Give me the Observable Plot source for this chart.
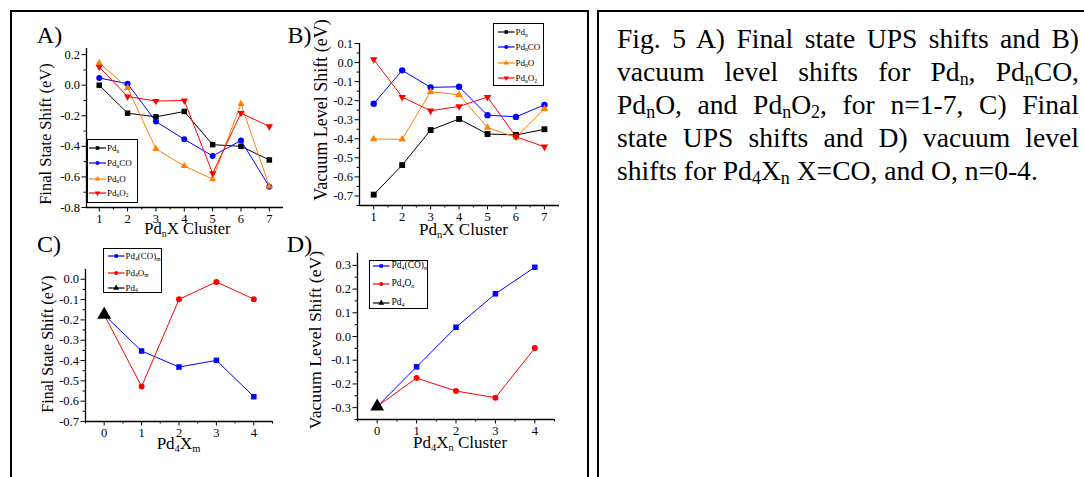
<!DOCTYPE html>
<html>
<head>
<meta charset="utf-8">
<script src="https://cdn.jsdelivr.net/npm/d3@7"></script>
<script src="https://cdn.jsdelivr.net/npm/@observablehq/plot@0.6"></script>
<style>
body{margin:0;background:#fff}
#fig{position:relative;width:1084px;height:477px;overflow:hidden;font-family:"Liberation Serif","Times New Roman",serif;color:#000;background:#fff}
#fig svg, #fig svg text{font-family:"Liberation Serif","Times New Roman",serif !important}
.box{position:absolute;border:2px solid #000;box-sizing:border-box}
.lbl{position:absolute;line-height:1;white-space:nowrap;transform:translate(-50%,-50%)}
.rot{transform:translate(-50%,-50%) rotate(-90deg)}
sub{font-size:0.62em;vertical-align:baseline;position:relative;top:0.32em;line-height:0}
.legend{position:absolute;border:1px solid #000;background:#fff;box-sizing:border-box}
.legend .t{position:absolute;line-height:1;white-space:nowrap;transform:translateY(-50%)}
.legend svg{position:absolute;overflow:visible}
.pl{position:absolute}
#cap{position:absolute;left:617px;top:22px;width:462px;font-size:27.6px;line-height:33px;text-align:justify}
#cap sub{font-size:0.65em;top:0.25em}
</style>
</head>
<body>
<div id="fig"></div>
<script>
// ---------- data ----------
const clusterN = [1, 2, 3, 4, 5, 6, 7];
// A) Final state shift (eV)
const fsPd    = [0.00, -0.183, -0.207, -0.172, -0.389, -0.400, -0.489];
const fsPdCO  = [0.047, 0.010, -0.238, -0.354, -0.463, -0.362, -0.664];
const fsPdO   = [0.145, -0.017, -0.417, -0.528, -0.614, -0.122, -0.662];
const fsPdO2  = [0.119, -0.074, -0.104, -0.100, -0.577, -0.183, -0.270];
// B) Vacuum level shift (eV)
const vlPd    = [-0.693, -0.538, -0.354, -0.296, -0.375, -0.380, -0.350];
const vlPdCO  = [-0.216, -0.041, -0.130, -0.127, -0.276, -0.285, -0.222];
const vlPdO   = [-0.401, -0.403, -0.153, -0.169, -0.341, -0.392, -0.243];
const vlPdO2  = [0.016, -0.181, -0.253, -0.230, -0.181, -0.389, -0.442];
// C, D) Pd4 X_m
const ligandM = [0, 1, 2, 3, 4];
const bareM   = [0];
const fsPd4CO = [-0.175, -0.353, -0.432, -0.399, -0.578];
const fsPd4O  = [-0.175, -0.528, -0.099, -0.013, -0.098];
const fsPd4   = [-0.175];
const vlPd4CO = [-0.295, -0.128, 0.039, 0.180, 0.292];
const vlPd4O  = [-0.295, -0.175, -0.230, -0.258, -0.049];
const vlPd4   = [-0.295];

// tick labels
const ticksN = [1, 2, 3, 4, 5, 6, 7];
const minorN = [1.5, 2.5, 3.5, 4.5, 5.5, 6.5];
const ticksM = [0, 1, 2, 3, 4];
const minorM = [-0.5, 0.5, 1.5, 2.5, 3.5, 4.5];
const ticksA = [0.2, 0.0, -0.2, -0.4, -0.6, -0.8];
const minorA = [0.1, -0.1, -0.3, -0.5, -0.7];
const ticksB = [0.1, 0.0, -0.1, -0.2, -0.3, -0.4, -0.5, -0.6, -0.7];
const minorB = [0.05, -0.05, -0.15, -0.25, -0.35, -0.45, -0.55, -0.65, -0.75];
const ticksC = [0.0, -0.1, -0.2, -0.3, -0.4, -0.5, -0.6, -0.7];
const minorC = [-0.05, -0.15, -0.25, -0.35, -0.45, -0.55, -0.65];
const ticksD = [0.3, 0.2, 0.1, 0.0, -0.1, -0.2, -0.3];
const minorD = [0.25, 0.15, 0.05, -0.05, -0.15, -0.25, -0.35];

// series styles
const BLACK = "#000000", BLUE = "#0000ff", ORANGE = "#ff8000", RED = "#ff0000";
const SERIF = '"Liberation Serif", "Times New Roman", serif';

const fig = document.getElementById("fig");

function add(html, cls, style) {
  const d = document.createElement("div");
  d.className = cls;
  d.innerHTML = html;
  Object.assign(d.style, style);
  fig.appendChild(d);
  return d;
}

// frames
add("", "box", {left: "10px", top: "10px", width: "579px", height: "520px"});
add("", "box", {left: "597px", top: "10px", width: "600px", height: "520px"});

const yFmt = d => (Math.abs(d) < 1e-9 ? 0 : d).toFixed(1);

function panel(opt) {
  const marks = [];
  const tf = {fontFamily: SERIF, fontSize: opt.fs || 12.5};
  marks.push(Plot.axisX({ticks: opt.xMinor, tickSize: 2.5, tickFormat: () => "", label: null, strokeWidth: 1}));
  marks.push(Plot.axisX({ticks: opt.xTicks, tickSize: 4.5, tickPadding: 2, tickFormat: d => String(d), label: null, strokeWidth: 1, ...tf}));
  marks.push(Plot.axisY({ticks: opt.yMinor, tickSize: 2.5, tickFormat: () => "", label: null, strokeWidth: 1}));
  marks.push(Plot.axisY({ticks: opt.yTicks, tickSize: 4.5, tickPadding: 2, tickFormat: yFmt, label: null, strokeWidth: 1, ...tf}));
  marks.push(Plot.ruleX([opt.xDomain[0]], {stroke: "#000", strokeWidth: 1.3}));
  marks.push(Plot.ruleY([opt.yDomain[0]], {stroke: "#000", strokeWidth: 1.3}));
  for (const s of opt.series) {
    const data = s.x.map((x, i) => ({x, y: s.y[i]}));
    if (s.line !== false) marks.push(Plot.line(data, {x: "x", y: "y", stroke: s.color, strokeWidth: 1}));
  }
  for (const s of opt.series) {
    const data = s.x.map((x, i) => ({x, y: s.y[i]}));
    marks.push(Plot.dot(data, {x: "x", y: "y", symbol: s.symbol, fill: s.color, stroke: "none", r: s.r, rotate: s.rotate || 0}));
  }
  const svg = Plot.plot({
    width: opt.width, height: opt.height,
    marginLeft: opt.mL, marginRight: opt.mR, marginTop: opt.mT, marginBottom: opt.mB,
    x: {domain: opt.xDomain},
    y: {domain: opt.yDomain},
    style: {background: "transparent", fontFamily: SERIF, fontSize: (opt.fs || 12.5) + "px", color: "#000", overflow: "visible"},
    marks
  });
  svg.classList.add("pl");
  svg.style.left = opt.left + "px";
  svg.style.top = opt.top + "px";
  svg.style.position = "absolute";
  svg.style.fontFamily = SERIF;
  fig.appendChild(svg);
}

function legend(box, entries) {
  const d = document.createElement("div");
  d.className = "legend";
  Object.assign(d.style, {left: box.left + "px", top: box.top + "px", width: box.width + "px", height: box.height + "px"});
  entries.forEach((e, i) => {
    const cy = box.rows[i];
    const ns = "http://www.w3.org/2000/svg";
    const svg = document.createElementNS(ns, "svg");
    const w = box.iconX1 - box.iconX0;
    svg.setAttribute("width", w);
    svg.setAttribute("height", 10);
    svg.style.left = box.iconX0 + "px";
    svg.style.top = (cy - 5) + "px";
    const ln = document.createElementNS(ns, "line");
    ln.setAttribute("x1", 0); ln.setAttribute("x2", w);
    ln.setAttribute("y1", 5); ln.setAttribute("y2", 5);
    ln.setAttribute("stroke", e.color); ln.setAttribute("stroke-width", 1.2);
    svg.appendChild(ln);
    const p = document.createElementNS(ns, "path");
    const type = {square: d3.symbolSquare, circle: d3.symbolCircle, triangle: d3.symbolTriangle}[e.symbol];
    p.setAttribute("d", d3.symbol(type, Math.PI * e.r * e.r)());
    p.setAttribute("fill", e.color);
    p.setAttribute("transform", `translate(${w / 2},5) rotate(${e.rotate || 0})`);
    svg.appendChild(p);
    d.appendChild(svg);
    const t = document.createElement("div");
    t.className = "t";
    t.innerHTML = e.label;
    t.style.left = box.textX + "px";
    t.style.top = cy + "px";
    t.style.fontSize = box.fontSize + "px";
    d.appendChild(t);
  });
  fig.appendChild(d);
}

// ---------- Panel A ----------
panel({
  left: 40, top: 40, width: 255, height: 195, mL: 46, mR: 12, mT: 8, mB: 28,
  xDomain: [0.55, 7.5], yDomain: [-0.8, 0.24],
  xTicks: ticksN, xMinor: minorN, yTicks: ticksA, yMinor: minorA,
  series: [
    {x: clusterN, y: fsPd, color: BLACK, symbol: "square", r: 3.1},
    {x: clusterN, y: fsPdCO, color: BLUE, symbol: "circle", r: 3},
    {x: clusterN, y: fsPdO, color: ORANGE, symbol: "triangle", r: 2.7},
    {x: clusterN, y: fsPdO2, color: RED, symbol: "triangle", r: 2.7, rotate: 180}
  ]
});
// ---------- Panel B ----------
panel({
  left: 320, top: 35, width: 250, height: 195, mL: 39, mR: 11, mT: 8, mB: 25,
  xDomain: [0.5, 7.53], yDomain: [-0.75, 0.1],
  xTicks: ticksN, xMinor: minorN, yTicks: ticksB, yMinor: minorB,
  series: [
    {x: clusterN, y: vlPd, color: BLACK, symbol: "square", r: 3.3},
    {x: clusterN, y: vlPdCO, color: BLUE, symbol: "circle", r: 3.2},
    {x: clusterN, y: vlPdO, color: ORANGE, symbol: "triangle", r: 2.8},
    {x: clusterN, y: vlPdO2, color: RED, symbol: "triangle", r: 2.8, rotate: 180}
  ]
});
// ---------- Panel C ----------
panel({
  left: 40, top: 260, width: 245, height: 180, mL: 45, mR: 13, mT: 9, mB: 19,
  xDomain: [-0.5, 4.5], yDomain: [-0.7, 0.048],
  xTicks: ticksM, xMinor: minorM, yTicks: ticksC, yMinor: minorC,
  series: [
    {x: ligandM, y: fsPd4CO, color: BLUE, symbol: "square", r: 3.1},
    {x: ligandM, y: fsPd4O, color: RED, symbol: "circle", r: 3},
    {x: bareM, y: fsPd4, color: BLACK, symbol: "triangle", r: 5.2, line: false}
  ]
});
// ---------- Panel D ----------
panel({
  left: 310, top: 245, width: 255, height: 195, mL: 47, mR: 11, mT: 8, mB: 21,
  xDomain: [-0.5, 4.5], yDomain: [-0.35, 0.35],
  xTicks: ticksM, xMinor: minorM, yTicks: ticksD, yMinor: minorD,
  series: [
    {x: ligandM, y: vlPd4CO, color: BLUE, symbol: "square", r: 3.1},
    {x: ligandM, y: vlPd4O, color: RED, symbol: "circle", r: 3},
    {x: bareM, y: vlPd4, color: BLACK, symbol: "triangle", r: 5.1, line: false}
  ]
});

// ---------- legends ----------
legend({left: 87, top: 139, width: 51, height: 64, rows: [8, 23, 38.5, 52.5], iconX0: 1, iconX1: 18, textX: 19, fontSize: 9}, [
  {label: "Pd<sub>n</sub>", color: BLACK, symbol: "square", r: 2},
  {label: "Pd<sub>n</sub>CO", color: BLUE, symbol: "circle", r: 2},
  {label: "Pd<sub>n</sub>O", color: ORANGE, symbol: "triangle", r: 2},
  {label: "Pd<sub>n</sub>O<sub>2</sub>", color: RED, symbol: "triangle", r: 2, rotate: 180}
]);
legend({left: 493, top: 23, width: 51, height: 63, rows: [8, 22.5, 38.5, 54], iconX0: 3.5, iconX1: 20, textX: 21.5, fontSize: 9}, [
  {label: "Pd<sub>n</sub>", color: BLACK, symbol: "square", r: 2},
  {label: "Pd<sub>n</sub>CO", color: BLUE, symbol: "circle", r: 2},
  {label: "Pd<sub>n</sub>O", color: ORANGE, symbol: "triangle", r: 2},
  {label: "Pd<sub>n</sub>O<sub>2</sub>", color: RED, symbol: "triangle", r: 2, rotate: 180}
]);
legend({left: 103, top: 248, width: 59, height: 45, rows: [7, 23.5, 38.5], iconX0: 3.5, iconX1: 20, textX: 21.5, fontSize: 9}, [
  {label: "Pd<sub>4</sub>(CO)<sub>m</sub>", color: BLUE, symbol: "square", r: 2},
  {label: "Pd<sub>4</sub>O<sub>m</sub>", color: RED, symbol: "circle", r: 2},
  {label: "Pd<sub>4</sub>", color: BLACK, symbol: "triangle", r: 2.2}
]);
legend({left: 369, top: 260, width: 59, height: 49, rows: [5, 23.3, 41.7], iconX0: 2.5, iconX1: 19, textX: 21.5, fontSize: 9.5}, [
  {label: "Pd<sub>4</sub>(CO)<sub>n</sub>", color: BLUE, symbol: "square", r: 2},
  {label: "Pd<sub>4</sub>O<sub>n</sub>", color: RED, symbol: "circle", r: 2},
  {label: "Pd<sub>4</sub>", color: BLACK, symbol: "triangle", r: 2.2}
]);

// ---------- text labels ----------
const px = v => v + "px";
const labels = [
  {t: "A)", x: 49.5, y: 35, s: 24},
  {t: "B)", x: 299.5, y: 35, s: 24},
  {t: "C)", x: 49, y: 243.5, s: 24},
  {t: "D)", x: 299.5, y: 243.5, s: 24},
  {t: "Final State Shift (eV)", x: 46, y: 133.5, s: 16.5, r: true},
  {t: "Vacuum Level Shift (eV)", x: 320.5, y: 109.5, s: 18, r: true},
  {t: "Final State Shift (eV)", x: 47.5, y: 344, s: 16, r: true},
  {t: "Vacuum Level Shift (eV)", x: 315.5, y: 340, s: 17.7, r: true},
  {t: "Pd<sub>n</sub>X Cluster", x: 187.5, y: 229, s: 16.5},
  {t: "Pd<sub>n</sub>X Cluster", x: 463.5, y: 229, s: 17},
  {t: "Pd<sub>4</sub>X<sub>m</sub>", x: 178.5, y: 443, s: 17},
  {t: "Pd<sub>4</sub>X<sub>n</sub> Cluster", x: 460, y: 442, s: 17}
];
for (const l of labels) {
  add(l.t, "lbl" + (l.r ? " rot" : ""), {left: px(l.x), top: px(l.y), fontSize: px(l.s)});
}

// ---------- caption ----------
const cap = document.createElement("div");
cap.id = "cap";
cap.innerHTML = "Fig. 5 A) Final state UPS shifts and B) vacuum level shifts for Pd<sub>n</sub>, Pd<sub>n</sub>CO, Pd<sub>n</sub>O, and Pd<sub>n</sub>O<sub>2</sub>, for n=1-7, C) Final state UPS shifts and D) vacuum level shifts for Pd<sub>4</sub>X<sub>n</sub> X=CO, and O, n=0-4.";
fig.appendChild(cap);
</script>
</body>
</html>
